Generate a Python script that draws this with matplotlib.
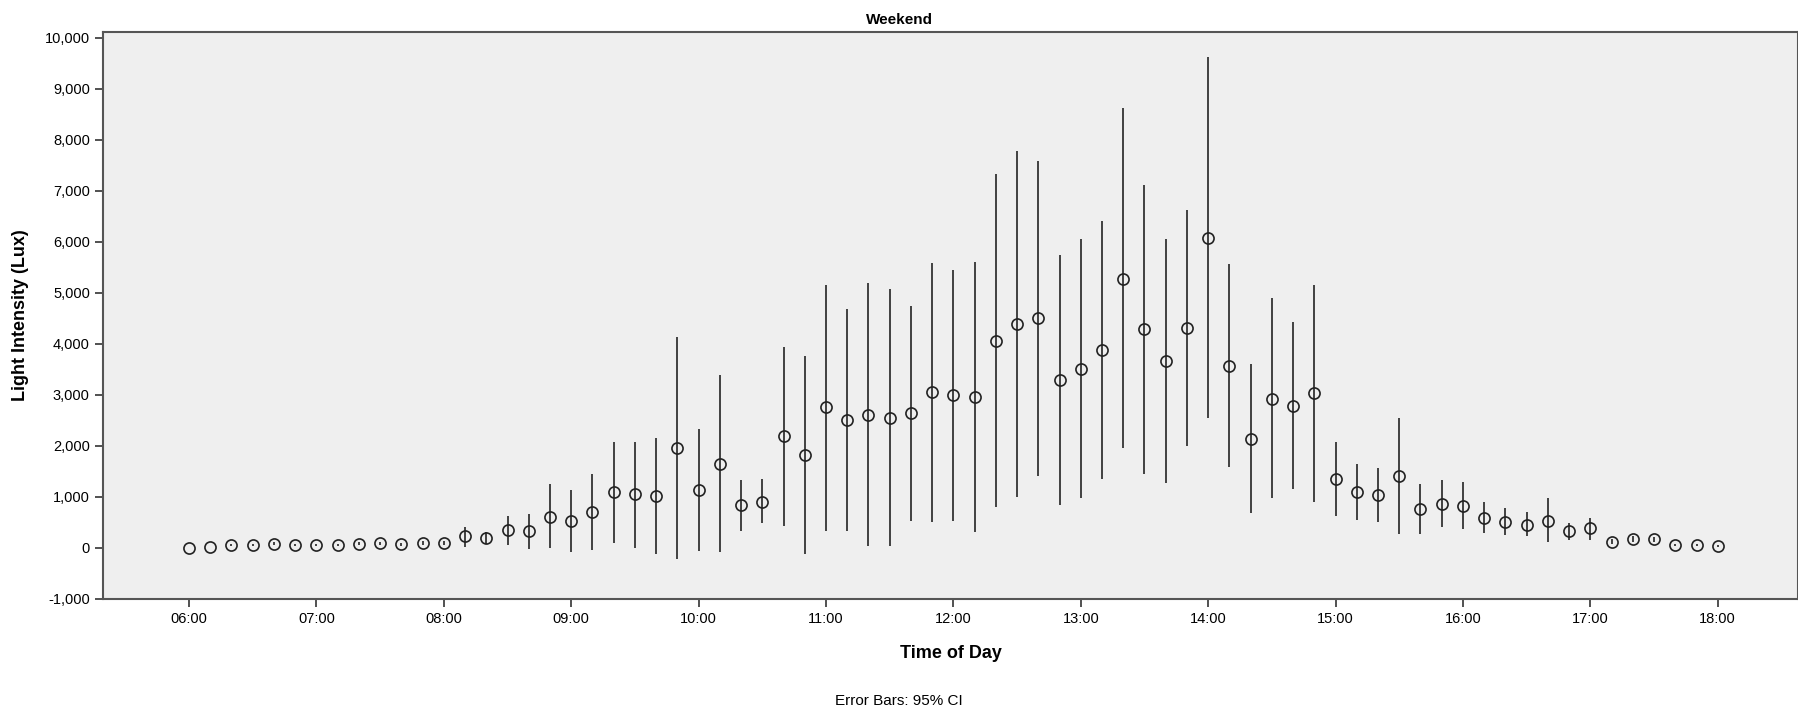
import numpy as np
import matplotlib.pyplot as plt

plt.rcParams['font.family'] = ['Liberation Sans', 'DejaVu Sans']

# 10-minute slots from 06:00 to 18:00
times = np.arange(6 * 60, 18 * 60 + 1, 10) / 60.0

mean_lux = [0, 10, 50, 50, 80, 50, 50, 50, 80, 90, 70, 100, 100,
            220, 180, 340, 320, 600, 530, 700, 1100, 1050, 1020, 1950,
            1130, 1640, 830, 900, 2180, 1820, 2750, 2510, 2600, 2550,
            2640, 3050, 3000, 2950, 4050, 4380, 4500, 3290, 3510, 3880,
            5270, 4290, 3650, 4300, 6080, 3570, 2130, 2920, 2780, 3030,
            1350, 1100, 1030, 1400, 750, 860, 820, 580, 500, 440,
            530, 320, 380, 120, 170, 160, 60, 60, 30]

ci_low = [0, 10, 30, 30, 50, 30, 30, 30, 50, 60, 40, 60, 60,
          20, 80, 50, -20, 0, -80, -50, 100, 0, -120, -220,
          -70, -80, 330, 480, 420, -130, 330, 330, 30, 30,
          530, 500, 530, 300, 800, 1000, 1400, 830, 970, 1350,
          1950, 1450, 1270, 2000, 2550, 1580, 670, 980, 1150, 900,
          620, 550, 500, 270, 270, 400, 370, 280, 250, 230,
          110, 150, 150, 80, 120, 110, 40, 40, 15]

ci_high = [0, 10, 70, 70, 110, 70, 70, 70, 110, 120, 100, 140, 140,
           400, 300, 620, 660, 1250, 1130, 1440, 2070, 2080, 2150, 4130,
           2330, 3380, 1330, 1340, 3930, 3760, 5150, 4670, 5180, 5080,
           4740, 5580, 5450, 5600, 7330, 7780, 7580, 5740, 6060, 6410,
           8620, 7120, 6050, 6620, 9620, 5560, 3600, 4900, 4420, 5150,
           2080, 1640, 1560, 2540, 1250, 1330, 1290, 890, 780, 690,
           970, 490, 580, 160, 220, 210, 80, 80, 45]

hour_ticks = [6, 7, 8, 9, 10, 11, 12, 13, 14, 15, 16, 17, 18]
hour_labels = ['%02d:00' % h for h in hour_ticks]
y_ticks = list(range(-1000, 10001, 1000))

fig = plt.figure(figsize=(17.98, 7.11), dpi=100)
ax = fig.add_axes([0.0573, 0.158, 0.9427, 0.797])
ax.set_facecolor('#efefef')

mean = np.array(mean_lux)
err = [mean - np.array(ci_low), np.array(ci_high) - mean]
ax.errorbar(times, mean, yerr=err, fmt='none', ecolor='#333333',
            elinewidth=1.3, capsize=0)
ax.plot(times, mean, 'o', markersize=8, markerfacecolor='none',
        markeredgecolor='#222222', markeredgewidth=1.2)

ax.set_xlim(5.325, 18.63)
ax.set_ylim(-1000, 10110)
ax.set_xticks(hour_ticks)
ax.set_xticklabels(hour_labels, fontsize=10.5)
ax.set_yticks(y_ticks)
ax.set_yticklabels(['{:,}'.format(v) for v in y_ticks], fontsize=10.5)
ax.tick_params(direction='out', length=6, width=1.2, color='#333333')

for s in ax.spines.values():
    s.set_color('#555555')
    s.set_linewidth(1.5)

fig.text(0.5, 0.962, 'Weekend', ha='center', va='bottom',
         fontsize=11, fontweight='bold')
ax.set_xlabel('Time of Day', fontsize=13, fontweight='bold', labelpad=14)
ax.set_ylabel('Light Intensity (Lux)', fontsize=13, fontweight='bold', labelpad=11)

fig.text(0.5, 0.008, 'Error Bars: 95% CI', ha='center', fontsize=11)

fig.savefig('out.png', dpi=100)
